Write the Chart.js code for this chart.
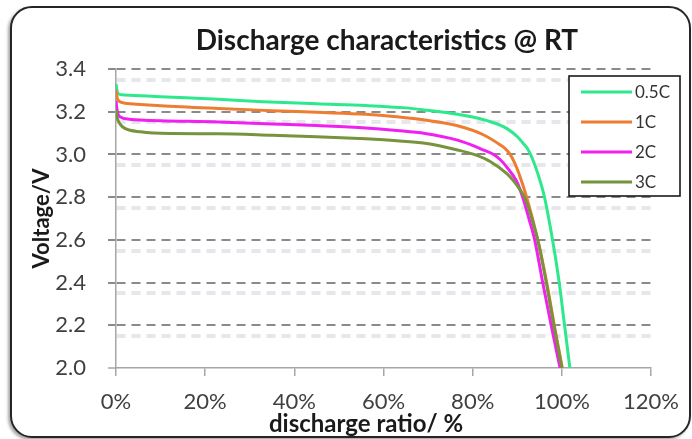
<!DOCTYPE html>
<html>
<head>
<meta charset="utf-8">
<script src="https://cdn.jsdelivr.net/npm/chart.js@4.4.1/dist/chart.umd.min.js"></script>
<style>
  html, body { margin: 0; padding: 0; background: #ffffff; }
  #wrap { position: relative; width: 692px; height: 439px; overflow: hidden; }
  #frame {
    position: absolute; left: 10px; top: 6px; width: 681px; height: 432px;
    box-sizing: border-box; border: 2px solid #262626; border-radius: 22px;
    box-shadow: -2px 2px 3px rgba(0,0,0,0.35);
    background: #ffffff;
  }
  #c { position: absolute; left: 0; top: 0; }
</style>
</head>
<body>
<div id="wrap">
  <div id="frame"></div>
  <canvas id="c" width="692" height="439"></canvas>
</div>
<script>
// ---- data ----
const seriesNames = ['0.5C', '1C', '2C', '3C'];
const seriesColors = ['#2EE88C', '#ED7D31', '#F020F0', '#77933C'];

const ratio05C = [0, 0.4, 2, 10, 23, 33, 45, 56, 65, 69.3, 76.6, 80, 84, 87.6, 89.9, 91.4, 92.5, 93.4, 94.6, 96.1, 97.9, 99.4, 100.6, 101.8];
const volt05C  = [3.33, 3.285, 3.278, 3.27, 3.258, 3.247, 3.237, 3.229, 3.218, 3.208, 3.188, 3.175, 3.153, 3.122, 3.085, 3.05, 3.02, 2.98, 2.91, 2.8, 2.6, 2.4, 2.2, 2.0];

const ratio1C = [0, 0.4, 2, 10, 23, 35, 45, 56, 63, 69.3, 76.6, 82.5, 86.2, 87.4, 88.4, 89.3, 90.2, 92.1, 94.6, 96.6, 98.3, 100.1];
const volt1C  = [3.30, 3.255, 3.24, 3.228, 3.215, 3.205, 3.197, 3.188, 3.176, 3.161, 3.134, 3.091, 3.044, 3.025, 3.0, 2.965, 2.92, 2.8, 2.6, 2.4, 2.2, 2.0];

const ratio2C = [0, 0.3, 1, 3, 5.5, 23, 35, 45, 56, 63, 69.3, 76.6, 79.5, 82.5, 84.7, 86.2, 87.6, 89.9, 91.2, 92.6, 93.9, 95.7, 97.6, 99.6];
const volt2C  = [3.25, 3.2, 3.175, 3.165, 3.161, 3.152, 3.143, 3.135, 3.124, 3.112, 3.098, 3.067, 3.046, 3.02, 3.0, 2.975, 2.942, 2.872, 2.8, 2.7, 2.6, 2.4, 2.2, 2.0];

const ratio3C = [0, 0.3, 1, 2, 5.5, 12, 23, 35, 45, 56, 63, 69.3, 76.6, 80.3, 84, 87.6, 89.2, 90.6, 91.6, 92.6, 93.6, 94.7, 96.5, 98.2, 100];
const volt3C  = [3.21, 3.17, 3.14, 3.122, 3.106, 3.098, 3.097, 3.09, 3.083, 3.073, 3.064, 3.052, 3.021, 3.0, 2.966, 2.911, 2.875, 2.835, 2.8, 2.745, 2.675, 2.59, 2.4, 2.2, 2.0];

const xTickLabels = ['0%', '20%', '40%', '60%', '80%', '100%', '120%'];

const ratios = [ratio05C, ratio1C, ratio2C, ratio3C];
const volts = [volt05C, volt1C, volt2C, volt3C];

// ---- helpers ----
const FONT = 'Lato, "Open Sans", sans-serif';
const near = (a, b) => Math.abs(a - b) < 1e-6;
const isMajor = v => near(v * 5, Math.round(v * 5));
const isFaint = v => near((v + 0.05) * 5, Math.round((v + 0.05) * 5));

const datasets = seriesNames.map((name, i) => ({
  label: name,
  data: ratios[i].map((x, j) => ({ x: x, y: volts[i][j] })),
  borderColor: seriesColors[i],
  backgroundColor: seriesColors[i],
  borderWidth: 3,
  pointRadius: 0,
  fill: false,
  cubicInterpolationMode: 'monotone',
  order: seriesNames.length - i
}));

const boxLegend = {
  id: 'boxLegend',
  afterDraw(chart) {
    const ctx = chart.ctx;
    const bx = 569, by = 76, bw = 111, bh = 120;
    ctx.save();
    ctx.fillStyle = '#ffffff';
    ctx.fillRect(bx, by, bw, bh);
    ctx.strokeStyle = '#1a1a1a';
    ctx.lineWidth = 1.6;
    ctx.strokeRect(bx, by, bw, bh);
    ctx.font = '17px ' + FONT;
    ctx.textBaseline = 'middle';
    ctx.textAlign = 'left';
    chart.data.datasets.forEach((ds, i) => {
      const y = by + 16 + i * 30;
      ctx.strokeStyle = ds.borderColor;
      ctx.lineWidth = 3;
      ctx.beginPath();
      ctx.moveTo(bx + 12, y);
      ctx.lineTo(bx + 63, y);
      ctx.stroke();
      ctx.fillStyle = '#333333';
      ctx.fillText(ds.label, bx + 66, y + 1);
    });
    ctx.restore();
  }
};

new Chart(document.getElementById('c'), {
  type: 'line',
  data: { datasets: datasets },
  plugins: [boxLegend],
  options: {
    responsive: false,
    animation: false,
    devicePixelRatio: 1,
    layout: { padding: { left: 29, right: 32, top: 0, bottom: 0 } },
    plugins: {
      legend: { display: false },
      tooltip: { enabled: false },
      title: {
        display: true,
        text: '\u00A0Discharge characteristics @ RT',
        fullSize: false,
        color: '#1a1a1a',
        font: { family: FONT, size: 28, weight: 'bold', lineHeight: 1.2 },
        padding: { top: 24.6, bottom: 10.8 }
      }
    },
    scales: {
      x: {
        type: 'linear',
        min: 0,
        max: 120,
        afterFit(s) { s.height = 71; },
        ticks: {
          stepSize: 20,
          autoSkip: false,
          maxRotation: 0,
          padding: 13,
          color: '#404040',
          font: { family: FONT, size: 22 },
          callback: v => xTickLabels[Math.round(v / 20)]
        },
        grid: {
          drawOnChartArea: false,
          drawTicks: true,
          tickLength: 8,
          color: '#a6a6a6',
          lineWidth: 1.5
        },
        border: { color: '#a6a6a6', width: 1.5 },
        title: {
          display: true,
          text: 'discharge ratio/ %\u00A0\u00A0\u00A0\u00A0\u00A0\u00A0',
          color: '#1a1a1a',
          font: { family: FONT, size: 24, weight: 'bold', lineHeight: 1.2 },
          padding: { top: 0, bottom: 0 }
        }
      },
      y: {
        type: 'linear',
        min: 2.0,
        max: 3.4,
        afterFit(s) { s.width = 116 - 29; },
        ticks: {
          stepSize: 0.05,
          autoSkip: false,
          padding: 22,
          color: '#404040',
          font: { family: FONT, size: 22 },
          callback: v => isMajor(v) ? v.toFixed(1) : ''
        },
        grid: {
          tickLength: 8,
          color: ctx => {
            const v = ctx.tick.value;
            if (isMajor(v)) return v < 2.001 ? 'rgba(0,0,0,0)' : '#8a8a8a';
            if (isFaint(v)) return 'rgba(205,205,218,0.5)';
            return 'rgba(0,0,0,0)';
          },
          lineWidth: ctx => {
            const v = ctx.tick.value;
            if (isMajor(v)) return 2;
            if (isFaint(v)) return 4;
            return 0;
          },
          tickColor: ctx => {
            const v = ctx.tick.value;
            if (isMajor(v)) return v < 2.001 ? '#a6a6a6' : '#8a8a8a';
            return 'rgba(0,0,0,0)';
          },
          tickWidth: ctx => isMajor(ctx.tick.value) ? (ctx.tick.value < 2.001 ? 1.5 : 2) : 0,
          tickBorderDash: []
        },
        border: { color: '#a6a6a6', width: 1.5, dash: [9, 6] },
        title: {
          display: true,
          text: 'Voltage/V',
          color: '#1a1a1a',
          font: { family: FONT, size: 22, weight: 'bold', lineHeight: 1.2 },
          padding: { top: 0, bottom: 0 }
        }
      }
    }
  }
});
</script>
</body>
</html>
